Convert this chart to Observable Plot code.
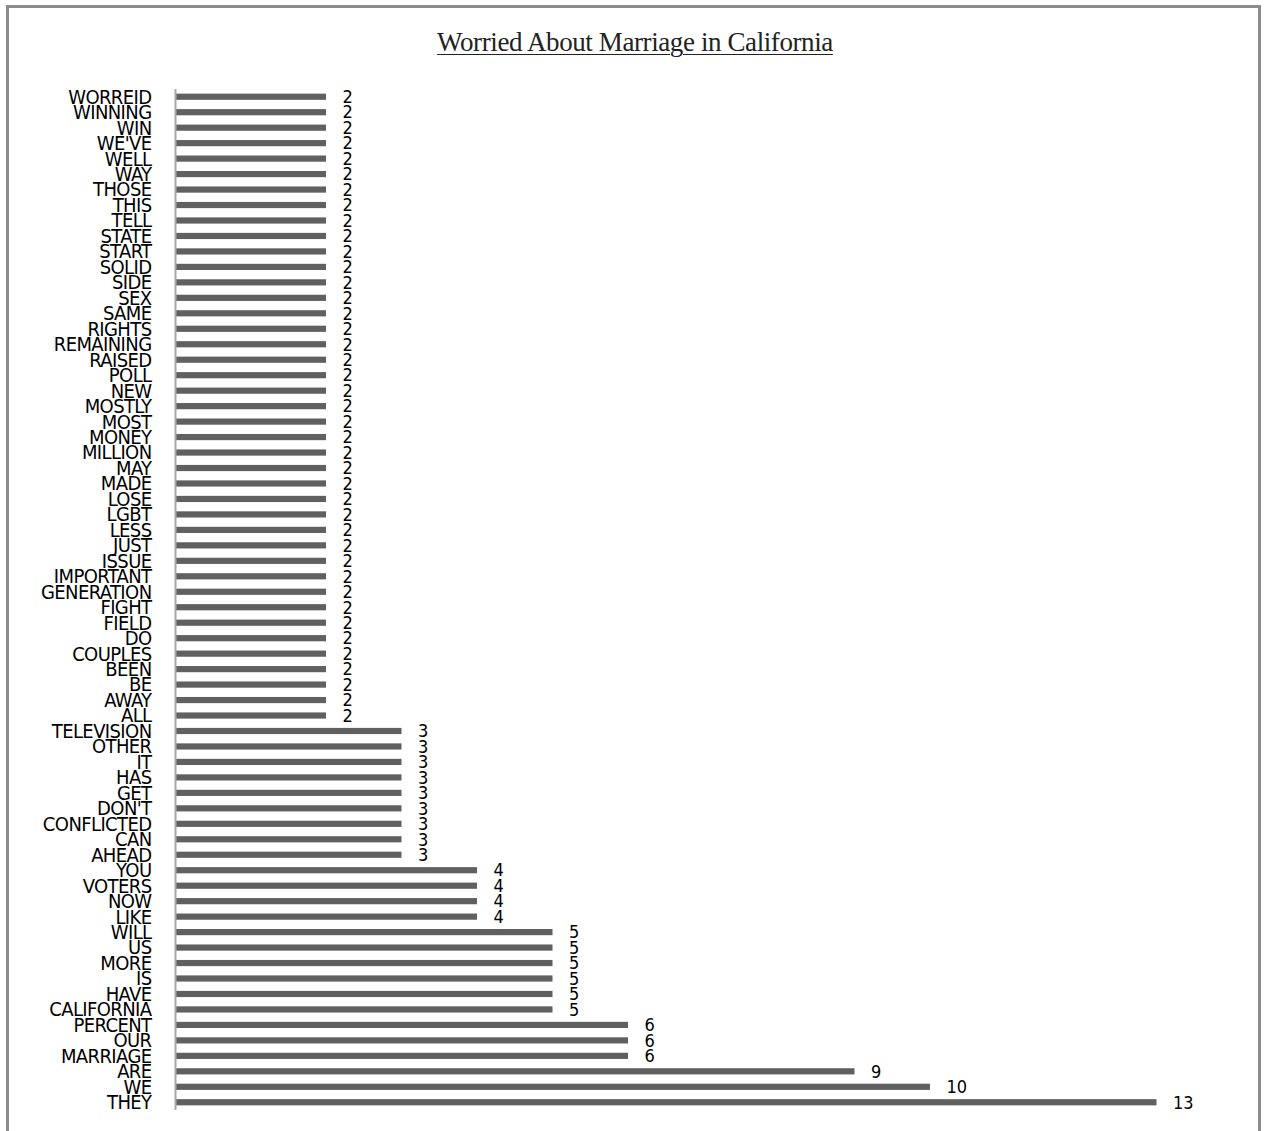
<!DOCTYPE html>
<html>
<head>
<meta charset="utf-8">
<script src="https://cdn.jsdelivr.net/npm/d3@7"></script>
<script src="https://cdn.jsdelivr.net/npm/@observablehq/plot@0.6"></script>
<style>
  html, body { margin: 0; padding: 0; background: #fff; overflow: hidden; }
  #page { position: relative; width: 1264px; height: 1131px; }
  #frame { position: absolute; left: 6px; top: 5px; width: 1249px; height: 1200px; border: 3px solid #8c8c8c; }
  #title { position: absolute; left: 0; width: 1270px; top: 27px; text-align: center;
           font-family: "Liberation Serif", "Times New Roman", serif; font-size: 27px; letter-spacing: -0.4px; color: #222; }
  #title span { text-decoration: underline; text-underline-offset: 3px; text-decoration-thickness: 1px; }
  #chart { position: absolute; left: 0; top: 0; }
  #chart svg text { font-family: "DejaVu Sans Condensed", "Liberation Sans Narrow", sans-serif; }
  #chart svg g[aria-label="y-axis tick label"] text { letter-spacing: -0.6px; }
</style>
</head>
<body>
<div id="page">
  <div id="frame"></div>
  <div id="title"><span>Worried About Marriage in California</span></div>
  <div id="chart"></div>
</div>
<script>
// Words, top to bottom, and their counts
const words = [
  "WORREID","WINNING","WIN","WE'VE","WELL","WAY","THOSE","THIS","TELL","STATE","START","SOLID","SIDE","SEX","SAME","RIGHTS","REMAINING","RAISED","POLL","NEW","MOSTLY","MOST","MONEY","MILLION","MAY","MADE","LOSE","LGBT","LESS","JUST","ISSUE","IMPORTANT","GENERATION","FIGHT","FIELD","DO","COUPLES","BEEN","BE","AWAY","ALL",
  "TELEVISION","OTHER","IT","HAS","GET","DON'T","CONFLICTED","CAN","AHEAD",
  "YOU","VOTERS","NOW","LIKE",
  "WILL","US","MORE","IS","HAVE","CALIFORNIA",
  "PERCENT","OUR","MARRIAGE",
  "ARE","WE","THEY"
];
const counts = [
  2,2,2,2,2,2,2,2,2,2,2,2,2,2,2,2,2,2,2,2,2,2,2,2,2,2,2,2,2,2,2,2,2,2,2,2,2,2,2,2,2,
  3,3,3,3,3,3,3,3,3,
  4,4,4,4,
  5,5,5,5,5,5,
  6,6,6,
  9,10,13
];

const data = words.map((w, i) => ({word: w, count: counts[i]}));

const chart = Plot.plot({
  width: 1264,
  height: 1131,
  marginTop: 89,
  marginBottom: 21,
  marginLeft: 175,
  marginRight: 107.5,
  x: {domain: [0, 13], axis: null},
  y: {domain: words, paddingInner: 0.6, paddingOuter: 0.3, label: null},
  marks: [
    Plot.barX(data, {x: "count", y: "word", fill: "#606060"}),
    Plot.ruleX([0], {stroke: "#a8a8a8", strokeWidth: 2}),
    Plot.text(data, {x: "count", y: "word", text: d => String(d.count), textAnchor: "start", dx: 16, fontSize: 18, fill: "#000"}),
    Plot.axisY({tickSize: 0, tickPadding: 24, fontSize: 20, color: "#000", label: null})
  ]
});
document.getElementById("chart").appendChild(chart);
</script>
</body>
</html>
